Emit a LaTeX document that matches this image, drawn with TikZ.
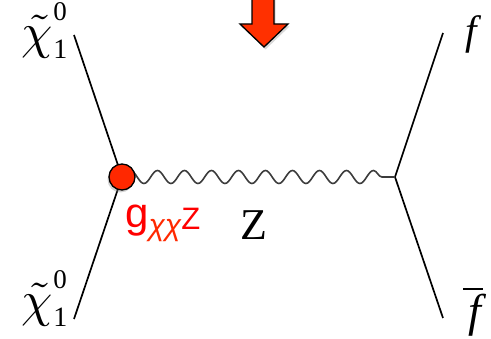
\documentclass[tikz,border=0pt]{standalone}
\usepackage{fontspec}
\usepackage{amsmath}
\usepackage{graphicx}
\setmainfont{Liberation Serif}
\newfontfamily\sansf{Liberation Sans}
\usetikzlibrary{decorations.pathmorphing,shadows}
\definecolor{dotred}{RGB}{255,40,0}
\definecolor{arrred}{RGB}{255,48,0}
\definecolor{labred}{RGB}{255,0,0}
\definecolor{suborange}{RGB}{255,40,0}
\definecolor{wavegray}{RGB}{60,60,60}
\newcommand{\neutr}{\scalebox{5}{$\tilde{\chi}$}\kern1pt\rlap{\raisebox{28pt}{\fontsize{27}{27}\selectfont 0}}\raisebox{-10pt}{\fontsize{28}{28}\selectfont 1}}
\tikzset{
  fermion/.style={line width=1.7pt, black},
  boson/.style={line width=1.6pt, wavegray, decorate,
    decoration={snake, amplitude=6.5pt, segment length=27pt}},
  vertexdot/.style={circle, fill=dotred, draw=black, line width=1.3pt,
    minimum size=26pt, inner sep=0pt,
    drop shadow={shadow xshift=-1.5pt, shadow yshift=-2.5pt, opacity=0.35}},
  chilab/.style={inner sep=0pt, anchor=base west},
  flab/.style={inner sep=0pt, anchor=base west, font=\fontsize{41}{41}\selectfont\itshape},
}
\begin{document}
\begin{tikzpicture}[x=1pt,y=-1pt]
\useasboundingbox (0,0) rectangle (491,339);
% vertices and external points
\coordinate (v1) at (122,177);
\coordinate (v2) at (395,177);
\coordinate (a) at (74,35);
\coordinate (b) at (74,319);
\coordinate (c) at (443,33);
\coordinate (d) at (443,318);
% fermion lines
\draw[fermion] (a) -- (v1) -- (b);
\draw[fermion] (c) -- (v2) -- (d);
% Z boson
\draw[boson] (v1) -- (v2);
% vertex dot
\node[vertexdot] (dot) at (v1) {};
% red arrow
\fill[arrred, draw=black, line width=1.3pt,
  drop shadow={shadow xshift=1.5pt, shadow yshift=-2.5pt, opacity=0.3}]
  (252,-3) -- (274,-3) -- (274,24) -- (288,24) -- (264,47) -- (240,24) -- (252,24) -- cycle;
% labels
\node[chilab] (chi1) at (21,48.5) {\neutr};
\node[chilab] (chi2) at (21,317) {\neutr};
\node[flab] (f1) at (465,45) {f};
\node[flab, font=\fontsize{46}{46}\selectfont\itshape] (f2) at (468,327)
  {\rlap{\kern-5pt\raisebox{37pt}{\rule{20pt}{1.6pt}}}f};
\node[inner sep=0pt, anchor=base, font=\fontsize{44}{44}\selectfont] (Z) at (254,240) {Z};
\node[inner sep=0pt, anchor=base west] (g) at (125,228)
  {\sansf\fontsize{42}{42}\selectfont\color{labred}g\raisebox{-8pt}{\fontsize{30}{30}\selectfont\itshape\color{suborange}χχ}\raisebox{-2pt}{\fontsize{31}{31}\selectfont Z}};
\end{tikzpicture}
\end{document}
